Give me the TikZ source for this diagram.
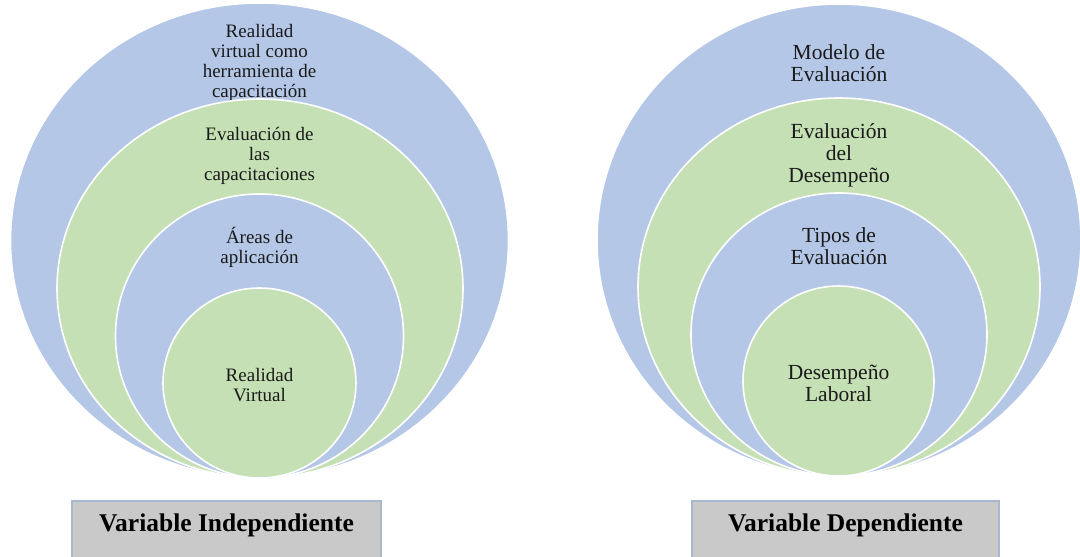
\documentclass[tikz,border=0pt]{standalone}
\usepackage{fontspec}
\setmainfont{Liberation Serif}
\usetikzlibrary{shapes.geometric}

\definecolor{ringblue}{HTML}{B4C7E7}
\definecolor{ringgreen}{HTML}{C5E0B4}
\definecolor{boxgray}{HTML}{C9C9C9}
\definecolor{boxedge}{HTML}{A9B7CF}
\definecolor{ink}{HTML}{1A1A1A}

\tikzset{
  ring/.style={ellipse, draw=white, line width=1.6pt, inner sep=0pt},
  bluering/.style={ring, fill=ringblue},
  greenring/.style={ring, fill=ringgreen},
  leftlbl/.style={align=center, text=ink, inner sep=0pt,
    font=\fontsize{19}{20}\selectfont},
  rightlbl/.style={align=center, text=ink, inner sep=0pt,
    font=\fontsize{21.5}{22}\selectfont},
  varbox/.style={draw=boxedge, line width=1.5pt, fill=boxgray, inner sep=0pt},
  vartext/.style={text=black, inner sep=0pt,
    font=\fontsize{25.5}{27}\selectfont\bfseries}
}

\begin{document}
\begin{tikzpicture}[x=1pt, y=-1pt]
  \useasboundingbox (0,0) rectangle (1080,557);

  % ---- Independent variable: nested rings ----
  \node[bluering, minimum width=498pt, minimum height=475pt] (L1) at (259.5,240.5) {};
  \node[leftlbl] (L1t) at (259.5,63) {Realidad\\virtual como\\herramienta de\\capacitación};
  \node[greenring, minimum width=406pt, minimum height=379pt] (L2) at (260,288.5) {};
  \node[leftlbl] (L2t) at (259.5,156) {Evaluación de\\las\\capacitaciones};
  \node[bluering, minimum width=288pt, minimum height=284pt] (L3) at (259.5,336) {};
  \node[leftlbl] (L3t) at (259.5,247) {Áreas de\\aplicación};
  \node[greenring, minimum width=193pt, minimum height=190pt] (L4) at (259.5,383) {};
  \node[leftlbl] (L4t) at (259.5,385) {Realidad\\Virtual};

  % ---- Dependent variable: nested rings ----
  \node[bluering, minimum width=484pt, minimum height=472pt] (R1) at (839,240) {};
  \node[rightlbl] (R1t) at (839,63.5) {Modelo de\\Evaluación};
  \node[greenring, minimum width=402pt, minimum height=378pt] (R2) at (839,287) {};
  \node[rightlbl] (R2t) at (839,155.5) {Evaluación\\del\\Desempeño};
  \node[bluering, minimum width=296pt, minimum height=283pt] (R3) at (839,334.5) {};
  \node[rightlbl] (R3t) at (839,246.5) {Tipos de\\Evaluación};
  \node[greenring, minimum width=191pt, minimum height=190pt] (R4) at (838.5,381) {};
  \node[rightlbl] (R4t) at (838.5,383) {Desempeño\\Laboral};

  % ---- Variable name boxes ----
  \node[varbox, minimum width=309pt, minimum height=62pt] (LB) at (226.5,532) {};
  \node[vartext] (LBt) at (226.5,525) {Variable Independiente};
  \node[varbox, minimum width=307pt, minimum height=62pt] (RB) at (845.5,532) {};
  \node[vartext] (RBt) at (845.5,525) {Variable Dependiente};
\end{tikzpicture}
\end{document}
